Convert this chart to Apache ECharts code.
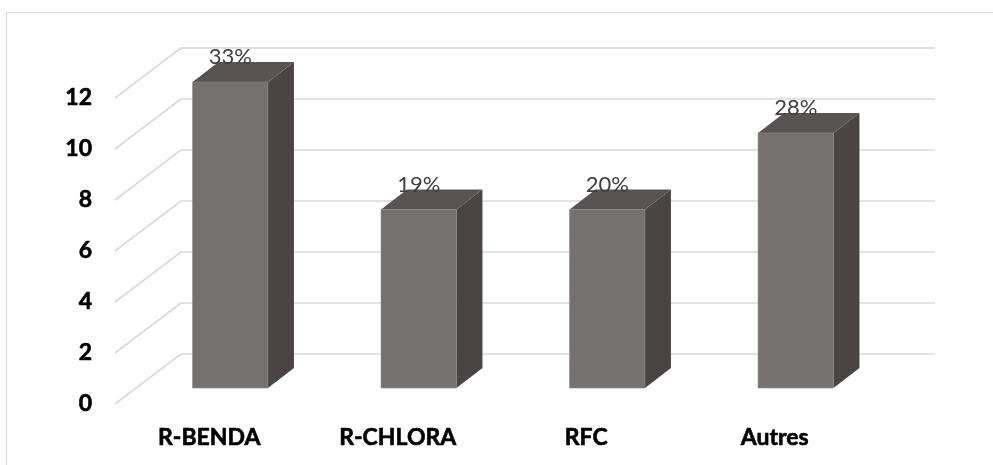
<!DOCTYPE html>
<html>
<head>
<meta charset="utf-8">
<script src="https://cdn.jsdelivr.net/npm/echarts@6/dist/echarts.min.js"></script>
<style>
  html, body { margin: 0; padding: 0; background: #fff; }
  #chart { width: 993px; height: 465px; }
</style>
</head>
<body>
<div id="chart"></div>
<script>
// Data
const categories = ['R-BENDA', 'R-CHLORA', 'RFC', 'Autres'];
const values = [12, 7, 7, 10];
const shareLabels = ['33%', '19%', '20%', '28%'];
const yTicks = [0, 2, 4, 6, 8, 10, 12];

// Oblique projection of the 3D box (pixels)
const WALL_DX = 66, WALL_DY = -50;      // front plane -> back wall
const BAR_FRONT_DX = 21, BAR_FRONT_DY = -16; // front plane -> bar front face
const BAR_DEPTH_DX = 26, BAR_DEPTH_DY = -20; // bar front -> bar back

const GRID_COLOR = '#d9d9d9';
const FRONT_COLOR = '#767171';
const TOP_COLOR = '#595453';
const SIDE_COLOR = '#4a4544';

const chart = echarts.init(document.getElementById('chart'), null, { renderer: 'canvas' });

function renderGridLine(params, api) {
  const cs = params.coordSys;
  const y = api.coord([0, api.value(1)])[1];
  const x0 = cs.x;
  const bx = x0 + WALL_DX, by = y + WALL_DY;
  const style = { stroke: GRID_COLOR, lineWidth: 1.6, fill: null };
  return {
    type: 'group',
    children: [
      { type: 'line', shape: { x1: x0, y1: y, x2: bx, y2: by }, style },
      { type: 'line', shape: { x1: bx, y1: by, x2: bx + cs.width, y2: by }, style }
    ]
  };
}

function renderBar(params, api) {
  const idx = api.value(0);
  const base = api.coord([idx, 0]);
  const top = api.coord([idx, api.value(1)]);
  const barW = api.size([1, 0])[0] * 0.4;
  const x = base[0] - barW / 2 + BAR_FRONT_DX;
  const yb = base[1] + BAR_FRONT_DY;
  const yt = top[1] + BAR_FRONT_DY;
  const dx = BAR_DEPTH_DX, dy = BAR_DEPTH_DY;
  return {
    type: 'group',
    children: [
      {
        type: 'polygon',
        shape: { points: [[x + barW, yt], [x + barW + dx, yt + dy], [x + barW + dx, yb + dy], [x + barW, yb]] },
        style: { fill: SIDE_COLOR }
      },
      {
        type: 'polygon',
        shape: { points: [[x, yt], [x + dx, yt + dy], [x + barW + dx, yt + dy], [x + barW, yt]] },
        style: { fill: TOP_COLOR }
      },
      {
        type: 'rect',
        shape: { x: x, y: yt, width: barW, height: yb - yt },
        style: { fill: FRONT_COLOR, stroke: '#8a8685', lineWidth: 0.6 }
      },
      {
        type: 'text',
        x: x + barW / 2,
        y: yt - 25,
        style: {
          text: shareLabels[idx],
          align: 'center',
          verticalAlign: 'middle',
          fontFamily: 'Lato',
          fontSize: 22,
          fill: '#404040'
        }
      }
    ]
  };
}

const boldLabel = {
  fontFamily: 'Lato',
  fontWeight: 'bold',
  fontSize: 23,
  color: '#000000',
  textBorderColor: '#000000',
  textBorderWidth: 0.6
};

chart.setOption({
  animation: false,
  backgroundColor: '#ffffff',
  graphic: [
    {
      type: 'rect',
      shape: { x: 6.5, y: 12.5, width: 1000, height: 500 },
      style: { fill: null, stroke: GRID_COLOR, lineWidth: 1.2 },
      z: 0
    }
  ],
  grid: { left: 115, right: 124, top: 98, bottom: 61 },
  xAxis: {
    type: 'category',
    data: categories,
    axisLine: { show: false },
    axisTick: { show: false },
    axisLabel: Object.assign({ margin: 22 }, boldLabel)
  },
  yAxis: {
    type: 'value',
    min: 0,
    max: 12,
    interval: 2,
    axisLine: { show: false },
    axisTick: { show: false },
    splitLine: { show: false },
    axisLabel: Object.assign({ margin: 23 }, boldLabel)
  },
  series: [
    {
      type: 'custom',
      name: 'grid',
      renderItem: renderGridLine,
      data: yTicks.map(v => [0, v]),
      encode: { x: 0, y: 1 },
      silent: true,
      z: 1
    },
    {
      type: 'custom',
      name: 'bars',
      renderItem: renderBar,
      data: values.map((v, i) => [i, v]),
      encode: { x: 0, y: 1 },
      z: 2
    }
  ]
});
</script>
</body>
</html>
